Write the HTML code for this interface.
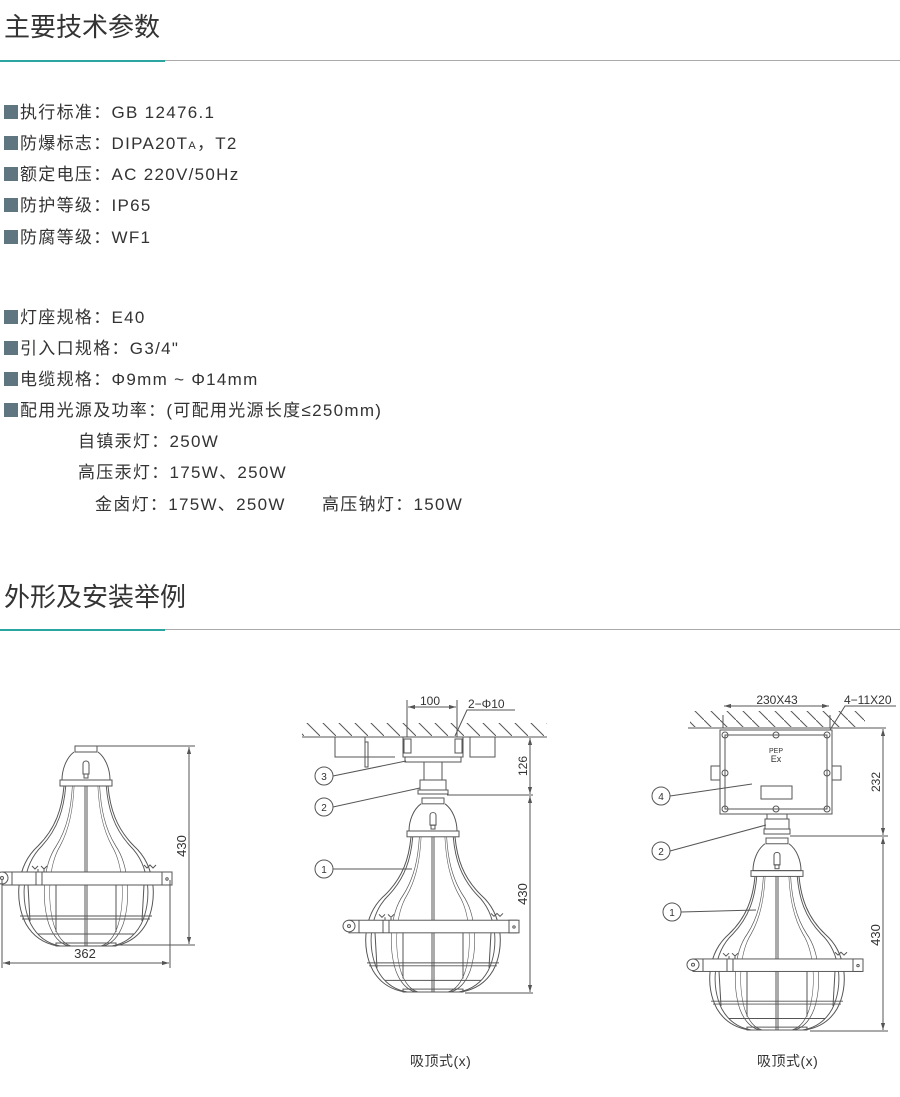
<!DOCTYPE html>
<html><head><meta charset="utf-8"><style>
body{margin:0;width:900px;height:1097px;background:#fff;position:relative;font-family:"Liberation Sans","Noto Sans CJK SC",sans-serif;color:#333;overflow:hidden}
.t{position:absolute;left:4px;font-size:26px;color:#333;line-height:1}
.ln{position:absolute;left:0;width:900px;height:1px;background:#aaa}
.ln i{position:absolute;left:0;top:0;width:165px;height:2px;background:#2aa6a0;margin-top:-.5px}
.it{position:absolute;font-size:17px;line-height:1;white-space:nowrap;color:#333;letter-spacing:1.3px}
.it b{display:inline-block;width:14px;height:14px;background:#5f7580;vertical-align:-1px;margin-right:2px}
svg{position:absolute;left:0;top:0}
</style></head><body>
<div class="t" style="top:14px">主要技术参数</div>
<div class="ln" style="top:60px"><i></i></div>
<div class="it" style="left:4px;top:104px"><b></b>执行标准：GB 12476.1</div>
<div class="it" style="left:4px;top:135px"><b></b>防爆标志：DIPA20T<span style="font-size:11px">A</span>，T2</div>
<div class="it" style="left:4px;top:166px"><b></b>额定电压：AC 220V/50Hz</div>
<div class="it" style="left:4px;top:197px"><b></b>防护等级：IP65</div>
<div class="it" style="left:4px;top:229px"><b></b>防腐等级：WF1</div>
<div class="it" style="left:4px;top:309px"><b></b>灯座规格：E40</div>
<div class="it" style="left:4px;top:340px"><b></b>引入口规格：G3/4"</div>
<div class="it" style="left:4px;top:371px"><b></b>电缆规格：Φ9mm ~ Φ14mm</div>
<div class="it" style="left:4px;top:402px"><b></b>配用光源及功率：(可配用光源长度≤250mm)</div>
<div class="it" style="left:78px;top:433px">自镇汞灯：250W</div>
<div class="it" style="left:78px;top:464px">高压汞灯：175W、250W</div>
<div class="it" style="left:95px;top:496px">金卤灯：175W、250W</div>
<div class="it" style="left:322px;top:496px">高压钠灯：150W</div>
<div class="t" style="top:584px">外形及安装举例</div>
<div class="ln" style="top:629px"><i></i></div>
<div class="it" style="left:410px;top:1054px;font-size:14px;letter-spacing:0.5px">吸顶式(x)</div>
<div class="it" style="left:757px;top:1054px;font-size:14px;letter-spacing:0.5px">吸顶式(x)</div>

<svg width="900" height="1097" viewBox="0 0 900 1097" fill="none" stroke="#555" stroke-width="1">
<defs>
<g id="rib"><path d="M-22,40 C-24,62 -30,82 -48,100 C-70,120 -72,155 -60,178 C-52,192 -40,198 -28,200"/></g>
<g id="lamp">
<rect x="-11" y="0" width="22" height="6"/>
<path d="M-12,6 C-20,12 -24,24 -24,34 L24,34 C24,24 20,12 12,6"/>
<path d="M-3,28 L-3,18 C-3,14 3,14 3,18 L3,28 Z"/><rect x="-2" y="28" width="4" height="4"/>
<rect x="-26" y="34" width="52" height="6"/>
<use href="#rib"/><use href="#rib" transform="scale(0.92,1)"/><use href="#rib" transform="scale(0.62,1)"/><use href="#rib" transform="scale(0.54,1)"/>
<use href="#rib" transform="scale(-1,1)"/><use href="#rib" transform="scale(-0.92,1)"/><use href="#rib" transform="scale(-0.62,1)"/><use href="#rib" transform="scale(-0.54,1)"/>
<line x1="-1" y1="40" x2="-1" y2="200"/><line x1="1" y1="40" x2="1" y2="200"/>
<rect x="-84" y="126" width="168" height="13" fill="#fff"/>
<circle cx="-84" cy="132" r="6" fill="#fff"/><circle cx="-84" cy="132" r="1.5"/>
<rect x="76" y="126" width="10" height="13" fill="#fff"/><circle cx="81" cy="133" r="1.2"/>
<line x1="-74" y1="126" x2="-74" y2="139"/>
<path d="M-54,120 l3,3 l3,-3 M-45,120 l3,3 l3,-3 M-48,123 v3 M-42,123 v3" />
<path d="M58,119 l3,3 l3,-3 l3,3 l3,-3"/><line x1="-50" y1="126" x2="-50" y2="139"/><line x1="-44" y1="126" x2="-44" y2="139"/>
<line x1="-30" y1="139" x2="-30" y2="186"/><line x1="30" y1="139" x2="30" y2="186"/>
<line x1="-58" y1="139" x2="-56" y2="175"/><line x1="58" y1="139" x2="56" y2="175"/>
<line x1="-66" y1="170" x2="66" y2="170"/><line x1="-64" y1="173" x2="64" y2="173"/>
<line x1="-48" y1="188" x2="48" y2="188"/>
<rect x="-30" y="197" width="60" height="3"/>
</g>
<marker id="ar" viewBox="0 0 10 10" refX="10" refY="5" markerWidth="7" markerHeight="7" orient="auto-start-reverse"><path d="M0,2 L10,5 L0,8 Z" fill="#555" stroke="none"/></marker>
<pattern id="hatch" width="16" height="16" patternUnits="userSpaceOnUse"><line x1="0" y1="0" x2="16" y2="16" stroke="#555"/></pattern>
</defs>

<use href="#lamp" transform="translate(86,746)"/>
<line x1="96" y1="746" x2="195" y2="746"/><line x1="116" y1="945" x2="195" y2="945"/>
<line x1="189" y1="747" x2="189" y2="944" marker-start="url(#ar)" marker-end="url(#ar)"/>
<text x="186" y="846" transform="rotate(-90 186 846)" fill="#333" stroke="none" font-size="13" text-anchor="middle" font-family="Liberation Sans">430</text>
<line x1="2" y1="880" x2="2" y2="968"/><line x1="170" y1="880" x2="170" y2="968"/>
<line x1="3" y1="963" x2="169" y2="963" marker-start="url(#ar)" marker-end="url(#ar)"/>
<text x="85" y="958" fill="#333" stroke="none" font-size="13" text-anchor="middle" font-family="Liberation Sans">362</text>

<rect x="302" y="723" width="245" height="13" fill="url(#hatch)" stroke="none"/>
<line x1="302" y1="737" x2="547" y2="737"/>
<path d="M335,737 v20 h60 M470,737 v20 h25 v-20 M365,737 v5 h3 v25 h-3 v-25"/>
<rect x="403" y="737" width="60" height="20"/><rect x="404" y="739" width="7" height="14"/><rect x="455" y="739" width="7" height="14"/>
<rect x="405" y="757" width="56" height="5"/>
<rect x="424" y="762" width="18" height="18"/>
<rect x="420" y="780" width="26" height="10"/><rect x="418" y="790" width="30" height="4"/>
<use href="#lamp" transform="translate(433,798) scale(1,0.97)"/>
<line x1="407" y1="700" x2="407" y2="737"/><line x1="457" y1="700" x2="457" y2="737"/>
<line x1="408" y1="707" x2="456" y2="707" marker-start="url(#ar)" marker-end="url(#ar)"/>
<text x="430" y="705" fill="#333" stroke="none" font-size="12" text-anchor="middle" font-family="Liberation Sans">100</text>
<path d="M455,736 L467,710 H515"/>
<text x="468" y="708" fill="#333" stroke="none" font-size="12" font-family="Liberation Sans">2−Φ10</text>
<line x1="447" y1="795" x2="533" y2="795"/><line x1="465" y1="993" x2="533" y2="993"/>
<line x1="530" y1="738" x2="530" y2="794" marker-start="url(#ar)" marker-end="url(#ar)"/>
<line x1="530" y1="796" x2="530" y2="992" marker-start="url(#ar)" marker-end="url(#ar)"/>
<text x="527" y="766" transform="rotate(-90 527 766)" fill="#333" stroke="none" font-size="12" text-anchor="middle" font-family="Liberation Sans">126</text>
<text x="527" y="894" transform="rotate(-90 527 894)" fill="#333" stroke="none" font-size="13" text-anchor="middle" font-family="Liberation Sans">430</text>
<circle cx="324" cy="776" r="9"/><text x="324" y="780" fill="#333" stroke="none" font-size="10" text-anchor="middle">3</text>
<line x1="333" y1="776" x2="406" y2="761"/>
<circle cx="324" cy="807" r="9"/><text x="324" y="811" fill="#333" stroke="none" font-size="10" text-anchor="middle">2</text>
<line x1="333" y1="807" x2="420" y2="788"/>
<circle cx="324" cy="869" r="9"/><text x="324" y="873" fill="#333" stroke="none" font-size="10" text-anchor="middle">1</text>
<line x1="333" y1="869" x2="412" y2="869"/>

<rect x="690" y="711" width="175" height="16" fill="url(#hatch)" stroke="none"/>
<line x1="688" y1="728" x2="886" y2="728"/>
<rect x="720" y="730" width="112" height="84"/><rect x="725" y="735" width="102" height="74"/>
<circle cx="725" cy="735" r="3"/><circle cx="776" cy="735" r="3"/><circle cx="827" cy="735" r="3"/>
<circle cx="725" cy="773" r="3"/><circle cx="827" cy="773" r="3"/>
<circle cx="725" cy="809" r="3"/><circle cx="776" cy="809" r="3"/><circle cx="827" cy="809" r="3"/>
<rect x="711" y="766" width="9" height="14"/><rect x="832" y="766" width="9" height="14"/>
<rect x="761" y="786" width="31" height="13"/>
<text x="776" y="753" fill="#333" stroke="none" font-size="7" text-anchor="middle">PEP</text>
<text x="776" y="762" fill="#333" stroke="none" font-size="9" text-anchor="middle">Ex</text>
<rect x="767" y="814" width="20" height="5"/><rect x="765" y="819" width="24" height="10"/><rect x="764" y="829" width="26" height="5"/>
<use href="#lamp" transform="translate(777,838) scale(1,0.96)"/>
<line x1="723" y1="715" x2="723" y2="728"/><line x1="830" y1="715" x2="830" y2="728"/>
<line x1="724" y1="706" x2="829" y2="706" marker-start="url(#ar)" marker-end="url(#ar)"/>
<text x="777" y="704" fill="#333" stroke="none" font-size="12" text-anchor="middle" font-family="Liberation Sans">230X43</text>
<path d="M830,730 L845,706 H896"/>
<text x="844" y="704" fill="#333" stroke="none" font-size="12" font-family="Liberation Sans">4−11X20</text>
<line x1="790" y1="836" x2="888" y2="836"/><line x1="810" y1="1031" x2="888" y2="1031"/>
<line x1="883" y1="729" x2="883" y2="835" marker-start="url(#ar)" marker-end="url(#ar)"/>
<line x1="883" y1="837" x2="883" y2="1030" marker-start="url(#ar)" marker-end="url(#ar)"/>
<text x="880" y="782" transform="rotate(-90 880 782)" fill="#333" stroke="none" font-size="12" text-anchor="middle" font-family="Liberation Sans">232</text>
<text x="880" y="935" transform="rotate(-90 880 935)" fill="#333" stroke="none" font-size="13" text-anchor="middle" font-family="Liberation Sans">430</text>
<circle cx="661" cy="796" r="9"/><text x="661" y="800" fill="#333" stroke="none" font-size="10" text-anchor="middle">4</text>
<line x1="670" y1="796" x2="752" y2="784"/>
<circle cx="661" cy="851" r="9"/><text x="661" y="855" fill="#333" stroke="none" font-size="10" text-anchor="middle">2</text>
<line x1="670" y1="851" x2="766" y2="825"/>
<circle cx="672" cy="912" r="9"/><text x="672" y="916" fill="#333" stroke="none" font-size="10" text-anchor="middle">1</text>
<line x1="681" y1="912" x2="756" y2="910"/>
</svg>
</body></html>
